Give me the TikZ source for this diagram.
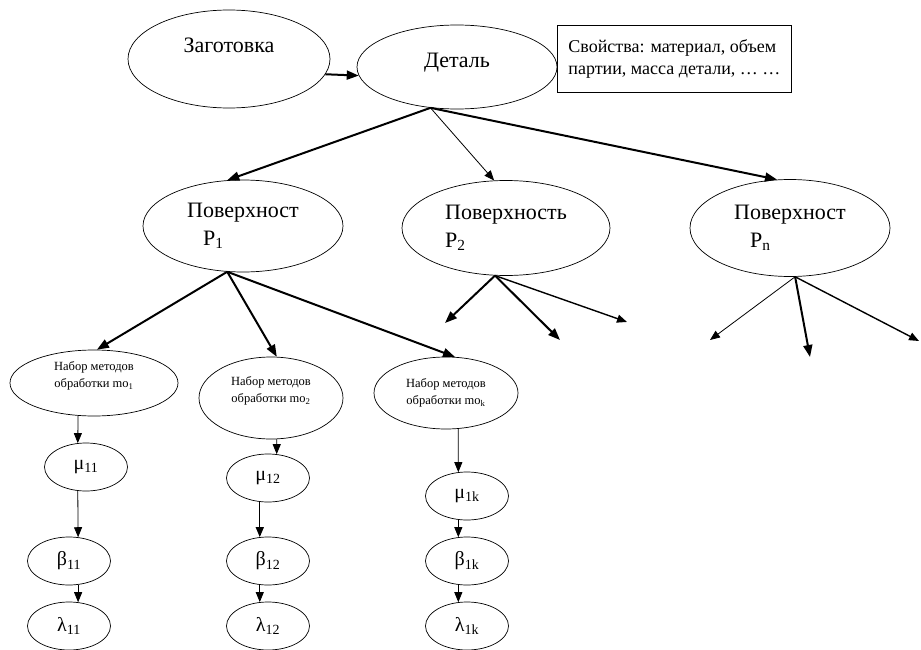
\documentclass[tikz,border=0pt]{standalone}
\usepackage{fontspec}
\setmainfont{Liberation Serif}
\usetikzlibrary{shapes.geometric,arrows.meta}
\newcommand{\idx}[1]{\textsubscript{#1}}

\begin{document}
\begin{tikzpicture}[
    x=1pt, y=-1pt,
    >={Triangle[length=10pt,width=8pt]},
    item/.style={ellipse, draw, line width=0.7pt, inner sep=0pt, font=\rmfamily\fontsize{22}{28}\selectfont},
    method/.style={ellipse, draw, line width=0.7pt, inner sep=0pt, align=center, font=\rmfamily\fontsize{12.5}{17}\selectfont},
    param/.style={ellipse, draw, line width=0.7pt, inner sep=0pt, minimum width=83pt, minimum height=48pt, font=\rmfamily\fontsize{20}{22}\selectfont},
    link/.style={->, line width=0.8pt},
    midlink/.style={->, line width=1.4pt},
    boldlink/.style={->, line width=2pt, >={Triangle[length=12pt,width=9pt]}}
]
\useasboundingbox (0,0) rectangle (921,650);

% Top row: blank, part and its properties
\node[item, minimum width=202pt, minimum height=98pt, align=center] (zag) at (229,59) {Заготовка\\\mbox{}};
\node[item, minimum width=200pt, minimum height=84pt, align=center] (det) at (457,67) {Деталь\\[-14pt]\mbox{}};
\node[draw, line width=0.8pt, fill=white, anchor=north west, minimum width=234pt, minimum height=67pt,
      align=left, font=\rmfamily\fontsize{18}{22}\selectfont] (props) at (557,25)
      {Свойства: материал, объем\\партии, масса детали, … …};

% Surfaces
\node[item, minimum width=200pt, minimum height=92pt, align=left] (p1) at (243,226) {Поверхност\\\hspace{16pt}P\idx{1}};
\node[item, minimum width=208pt, minimum height=95pt, align=left] (p2) at (506,228) {Поверхность\\P\idx{2}};
\node[item, minimum width=200pt, minimum height=97pt, align=left] (pn) at (790,228) {Поверхност\\\hspace{16pt}P\idx{n}};

% Method sets of the first surface
\node[method, minimum width=168pt, minimum height=66pt] (m1) at (94,383) {Набор методов\\обработки mo\idx{1}\\\mbox{}};
\node[method, minimum width=144pt, minimum height=82pt] (m2) at (271,398) {Набор методов\\обработки mo\idx{2}\\\mbox{}};
\node[method, minimum width=144pt, minimum height=72pt] (mk) at (446,393) {Набор методов\\обработки mo\idx{k}};

% Parameter chains
\node[param] (mu11) at (86,467) {μ\idx{11}};
\node[param] (b11) at (69,561) {β\idx{11}};
\node[param] (l11) at (69,626) {λ\idx{11}};
\node[param] (mu12) at (268,478) {μ\idx{12}};
\node[param] (b12) at (268,561) {β\idx{12}};
\node[param] (l12) at (268,626) {λ\idx{12}};
\node[param] (mu1k) at (467,496) {μ\idx{1k}};
\node[param] (b1k) at (467,561) {β\idx{1k}};
\node[param] (l1k) at (467,626) {λ\idx{1k}};

% Free ends of the other surfaces
\coordinate (p2a) at (445,323);
\coordinate (p2b) at (560,340);
\coordinate (p2c) at (627,322);
\coordinate (pna) at (710,340);
\coordinate (pnb) at (810,357);
\coordinate (pnc) at (919,341);

% Arrows
\draw[boldlink] (zag.351) -- (det.185);
\draw[boldlink] (det.237) -- (p1.109);
\draw[link] (det.237) -- (p2.104);
\draw[boldlink] (det.237) -- (pn.105);

\draw[boldlink] (p1.251) -- (m1.85);
\draw[boldlink] (p1.251) -- (m2.82);
\draw[boldlink] (p1.251) -- (mk.76);

\draw[boldlink] (p2.257) -- (p2a);
\draw[boldlink] (p2.257) -- (p2b);
\draw[midlink] (p2.257) -- (p2c);
\draw[link] (pn.276) -- (pna);
\draw[boldlink] (pn.276) -- (pnb);
\draw[midlink] (pn.276) -- (pnc);

\draw[link] (m1.244) -- (mu11.109);
\draw[link] (mu11.251) -- (b11.69);
\draw[link] (b11.291) -- (l11.69);
\draw[link] (m2.278) -- (mu12.70);
\draw[midlink] (mu12.251) -- (b12.109);
\draw[link] (b12.251) -- (l12.109);
\draw[link] (mk.289) -- (mu1k.110);
\draw[link] (mu1k.250) -- (b1k.110);
\draw[link] (b1k.250) -- (l1k.110);

\end{tikzpicture}
\end{document}
